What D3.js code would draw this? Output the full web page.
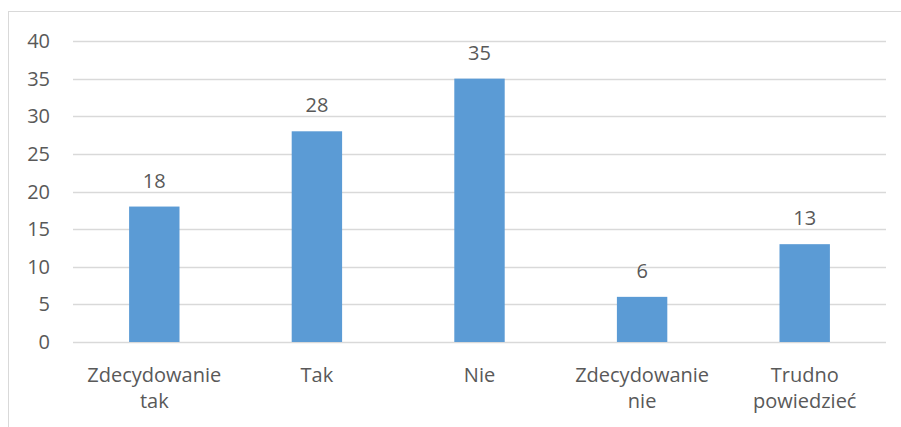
<!DOCTYPE html>
<html><head><meta charset="utf-8">
<script src="https://cdn.jsdelivr.net/npm/d3@7"></script>
<style>body{margin:0;background:#fff;overflow:hidden;} text{font-family:"Open Sans",sans-serif;fill:#595959;}</style>
</head><body>
<svg id="c" width="901" height="427" style="display:block"></svg>
<script>
const categories = [["Zdecydowanie","tak"],["Tak"],["Nie"],["Zdecydowanie","nie"],["Trudno","powiedzieć"]];
const values = [18, 28, 35, 6, 13];
const yTicks = [0,5,10,15,20,25,30,35,40];

const svg = d3.select("#c");
svg.append("rect").attr("x",8.5).attr("y",11.5).attr("width",910).attr("height",440)
  .attr("fill","none").attr("stroke","#d9d9d9").attr("stroke-width",1);

const pLeft=73, pRight=886, pTop=41, pBottom=342;
const x = d3.scaleBand().domain(d3.range(values.length)).range([pLeft,pRight]).paddingInner(0.69).paddingOuter(0.345);
const y = d3.scaleLinear().domain([0,40]).range([pBottom,pTop]);
const fs = "20px";

const g = svg.append("g");
g.selectAll("line.grid").data(yTicks).enter().append("line")
  .attr("x1",pLeft).attr("x2",pRight).attr("y1",d=>Math.round(y(d))+0.5).attr("y2",d=>Math.round(y(d))+0.5)
  .attr("stroke","#d9d9d9").attr("stroke-width",1.3);
g.selectAll("text.yt").data(yTicks).enter().append("text")
  .attr("x",50).attr("y",d=>y(d)).attr("dy","0.35em").attr("text-anchor","end")
  .style("font-size",fs).text(d=>d);

g.selectAll("rect.bar").data(values).enter().append("rect")
  .attr("x",(d,i)=>x(i)).attr("width",x.bandwidth()).attr("y",d=>y(d)).attr("height",d=>y(0)-y(d))
  .attr("fill","#5b9bd5");
g.selectAll("text.lab").data(values).enter().append("text")
  .attr("x",(d,i)=>x(i)+x.bandwidth()/2).attr("y",d=>y(d)-19).attr("text-anchor","middle")
  .style("font-size",fs).text(d=>d);

categories.forEach((lines,i)=>{
  const t = g.append("text").attr("text-anchor","middle").style("font-size",fs);
  lines.forEach((l,j)=>{
    t.append("tspan").attr("x",x(i)+x.bandwidth()/2).attr("y",382+j*26).text(l);
  });
});
</script>
</body></html>
